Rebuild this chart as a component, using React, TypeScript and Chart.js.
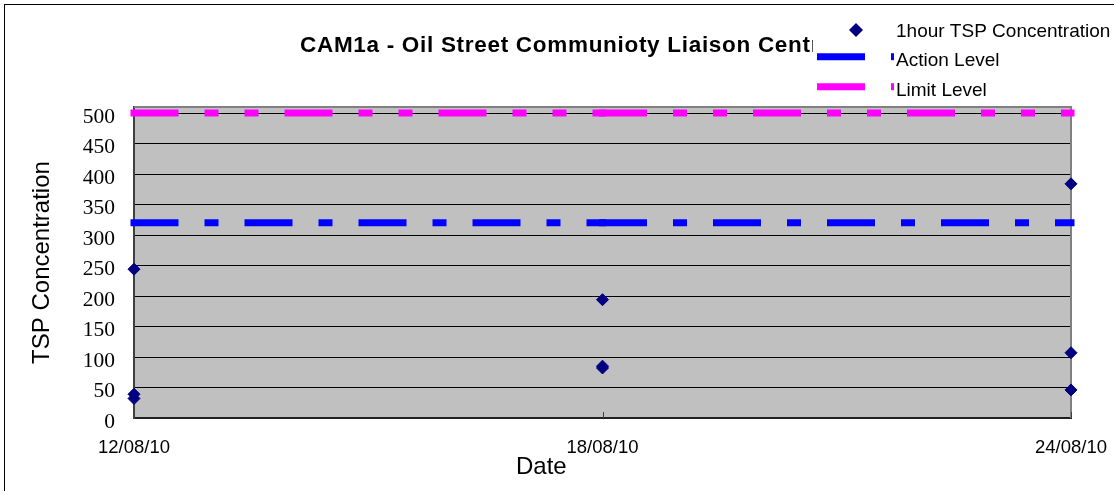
import React, { useEffect, useRef } from 'react';
import { Chart, registerables } from 'chart.js';

Chart.register(...registerables);

const CHART_TITLE = 'CAM1a - Oil Street Communioty Liaison Centre';
const X_TITLE = 'Date';
const Y_TITLE = 'TSP Concentration';

const dateLabels = ['12/08/10', '18/08/10', '24/08/10'];
const tspDates = ['12/08/10', '12/08/10', '12/08/10', '18/08/10', '18/08/10', '18/08/10', '24/08/10', '24/08/10', '24/08/10'];
const tspValues = [244, 39, 32, 194, 85, 82, 384, 107, 46];
const actionLevel = [320, 320, 320];
const limitLevel = [500, 500, 500];
const yTickValues = [0, 50, 100, 150, 200, 250, 300, 350, 400, 450, 500];
const seriesNames = ['1hour TSP Concentration', 'Action Level', 'Limit Level'];
const seriesColors = ['#000080', '#0000FF', '#FF00FF'];

const SANS = "'Liberation Sans', Arial, sans-serif";
const SERIF = "'Liberation Serif', 'Times New Roman', serif";

function dayNumber(label: string): number {
  const [d, m, y] = label.split('/').map(Number);
  return Date.UTC(2000 + y, m - 1, d) / 86400000;
}

const plotFrame = {
  id: 'plotFrame',
  beforeDraw(chart: any) {
    const { ctx, chartArea: a } = chart;
    ctx.save();
    ctx.fillStyle = '#ffffff';
    ctx.fillRect(0, 0, chart.width, chart.height);
    ctx.fillStyle = '#C0C0C0';
    ctx.fillRect(a.left, a.top, a.right - a.left, a.bottom - a.top);
    ctx.restore();
  },
  beforeDatasetsDraw(chart: any) {
    const { ctx, chartArea: a } = chart;
    ctx.save();
    ctx.strokeStyle = '#808080';
    ctx.lineWidth = 2;
    ctx.beginPath();
    ctx.moveTo(a.left, a.top);
    ctx.lineTo(a.right, a.top);
    ctx.lineTo(a.right, a.bottom);
    ctx.stroke();
    const xs = chart.scales.x;
    ctx.strokeStyle = '#404040';
    ctx.lineWidth = 1;
    xs.ticks.forEach((t: any) => {
      const px = Math.round(xs.getPixelForValue(t.value)) + 0.5;
      ctx.beginPath();
      ctx.moveTo(px, a.bottom);
      ctx.lineTo(px, a.bottom - 6);
      ctx.stroke();
    });
    ctx.restore();
  },
};

const overlay = {
  id: 'overlay',
  afterDraw(chart: any) {
    const ctx = chart.ctx;
    ctx.save();
    // outer frame
    ctx.strokeStyle = '#000000';
    ctx.lineWidth = 1;
    ctx.strokeRect(4.5, 4.5, chart.width + 20, chart.height + 20);
    // chart title
    ctx.fillStyle = '#000000';
    ctx.textAlign = 'left';
    ctx.textBaseline = 'alphabetic';
    ctx.font = `bold 22.5px ${SANS}`;
    (ctx as any).letterSpacing = '0.7px';
    ctx.fillText(CHART_TITLE, 300, 51.5);
    (ctx as any).letterSpacing = '0px';
    // x axis title
    ctx.font = `24px ${SANS}`;
    ctx.fillText(X_TITLE, 516, 474);
    // legend
    ctx.fillStyle = '#ffffff';
    ctx.fillRect(813, 13, chart.width - 813, 90);
    const datasets = chart.data.datasets;
    const rowsMarkY = [30, 56.7, 86.7];
    const rowsTextY = [36.5, 66, 96];
    ctx.font = `19px ${SANS}`;
    datasets.forEach((ds: any, i: number) => {
      const y = rowsMarkY[i];
      if (i === 0) {
        const r = 7;
        const cx = 856;
        ctx.fillStyle = ds.pointBackgroundColor;
        ctx.beginPath();
        ctx.moveTo(cx - r, y);
        ctx.lineTo(cx, y - r);
        ctx.lineTo(cx + r, y);
        ctx.lineTo(cx, y + r);
        ctx.closePath();
        ctx.fill();
      } else {
        ctx.strokeStyle = ds.borderColor;
        ctx.lineWidth = 7;
        ctx.lineCap = 'butt';
        ctx.beginPath();
        ctx.moveTo(817, y);
        ctx.lineTo(865, y);
        ctx.stroke();
        ctx.fillStyle = ds.borderColor;
        ctx.fillRect(891, y - 3.5, 3, 7);
      }
      ctx.fillStyle = '#000000';
      ctx.fillText(ds.label, 896, rowsTextY[i]);
    });
    ctx.restore();
  },
};

export default function App() {
  const canvasRef = useRef<HTMLCanvasElement | null>(null);

  useEffect(() => {
    document.body.style.margin = '0';
    const canvas = canvasRef.current;
    if (!canvas) return;

    const xMin = dayNumber(dateLabels[0]);
    const xMax = dayNumber(dateLabels[dateLabels.length - 1]);

    const chart = new Chart(canvas, {
      type: 'line',
      data: {
        datasets: [
          {
            label: seriesNames[0],
            data: tspDates.map((d, i) => ({ x: dayNumber(d), y: tspValues[i] })),
            showLine: false,
            pointStyle: 'rectRot',
            pointRadius: 6,
            pointHoverRadius: 6,
            pointBackgroundColor: seriesColors[0],
            pointBorderColor: seriesColors[0],
            pointBorderWidth: 1,
            borderColor: seriesColors[0],
            backgroundColor: seriesColors[0],
            clip: false,
          },
          {
            label: seriesNames[1],
            data: dateLabels.map((d, i) => ({ x: dayNumber(d), y: actionLevel[i] })),
            borderColor: seriesColors[1],
            backgroundColor: seriesColors[1],
            borderWidth: 7,
            borderDash: [41, 33, 7, 33],
            borderCapStyle: 'square',
            pointRadius: 0,
            pointHoverRadius: 0,
            clip: false,
            segment: { borderDashOffset: (c: any) => c.p0DataIndex * 0.001 },
          },
          {
            label: seriesNames[2],
            data: dateLabels.map((d, i) => ({ x: dayNumber(d), y: limitLevel[i] })),
            borderColor: seriesColors[2],
            backgroundColor: seriesColors[2],
            borderWidth: 7,
            borderDash: [41, 33, 7, 33, 7, 33],
            borderCapStyle: 'square',
            pointRadius: 0,
            pointHoverRadius: 0,
            clip: false,
            segment: { borderDashOffset: (c: any) => c.p0DataIndex * 0.001 },
          },
        ] as any,
      },
      options: {
        responsive: false,
        animation: false,
        events: [],
        layout: { padding: { top: 107, right: 43, bottom: 0, left: 0 } },
        plugins: {
          legend: { display: false },
          title: { display: false },
          tooltip: { enabled: false },
        },
        scales: {
          x: {
            type: 'linear',
            min: xMin,
            max: xMax,
            afterBuildTicks: (s: any) => {
              s.ticks = dateLabels.map((d) => ({ value: dayNumber(d) }));
            },
            afterFit: (s: any) => {
              s.height = 73;
              s.paddingLeft = 0;
              s.paddingRight = 0;
            },
            grid: { display: false, drawTicks: false },
            border: { display: true, color: '#202020', width: 2 },
            ticks: {
              autoSkip: false,
              maxRotation: 0,
              minRotation: 0,
              padding: 19,
              color: '#000000',
              font: { family: SANS, size: 18.5 },
              callback: (v: any) => {
                const found = dateLabels.find((d) => dayNumber(d) === Number(v));
                return found ?? '';
              },
            },
          },
          y: {
            type: 'linear',
            min: 0,
            max: 510,
            afterBuildTicks: (s: any) => {
              s.ticks = yTickValues.map((v) => ({ value: v }));
            },
            afterFit: (s: any) => {
              s.width = 134;
            },
            grid: { color: '#000000', lineWidth: 1, drawTicks: false },
            border: { display: true, color: '#404040', width: 2 },
            ticks: {
              padding: 19,
              labelOffset: 4,
              color: '#000000',
              font: { family: SERIF, size: 21.5 },
              callback: (v: any) => String(v),
            },
            title: {
              display: true,
              text: Y_TITLE,
              color: '#000000',
              font: { family: SANS, size: 24 },
              padding: { top: 28, bottom: 0 },
            },
          },
        },
      } as any,
      plugins: [plotFrame, overlay],
    });

    return () => {
      chart.destroy();
    };
  }, []);

  return (
    <div style={{ width: 1114, height: 491 }}>
      <canvas ref={canvasRef} width={1114} height={491} style={{ display: 'block' }} />
    </div>
  );
}
